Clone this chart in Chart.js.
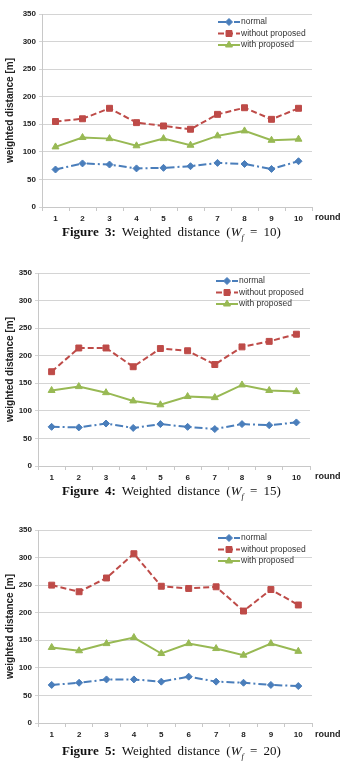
<!DOCTYPE html>
<html>
<head>
<meta charset="utf-8">
<script src="https://cdn.jsdelivr.net/npm/chart.js@4"></script>
<style>
  body { margin: 0; background: #fff; }
  #page { position: relative; width: 343px; height: 776px; overflow: hidden; }
  .box { position: absolute; left: 0; width: 343px; height: 226px; }
  .cap { position: absolute; left: 0; width: 343px; text-align: center; font: 13px 'Liberation Serif', serif; color: #111; word-spacing: 3px; }
  .cap sub { font-size: 8px; }
  .round { position: absolute; left: 315px; font: bold 9px 'Liberation Sans', sans-serif; color: #222; }
</style>
</head>
<body>
<div id="page">
  <div class="box" style="top:0px"><canvas id="c1"></canvas></div>
  <div class="round" style="top:212px">round</div>
  <div class="cap" style="top:224px"><b>Figure 3:</b> Weighted distance (<i>W<sub>f</sub></i> = 10)</div>

  <div class="box" style="top:259px"><canvas id="c2"></canvas></div>
  <div class="round" style="top:471px">round</div>
  <div class="cap" style="top:483px"><b>Figure 4:</b> Weighted distance (<i>W<sub>f</sub></i> = 15)</div>

  <div class="box" style="top:516px"><canvas id="c3"></canvas></div>
  <div class="round" style="top:729px">round</div>
  <div class="cap" style="top:743px"><b>Figure 5:</b> Weighted distance (<i>W<sub>f</sub></i> = 20)</div>
</div>
<script>
const rounds = ['1', '2', '3', '4', '5', '6', '7', '8', '9', '10'];
const seriesNames = ['normal', 'without proposed', 'with proposed'];

// Figure 3 (Wf = 10)
const normalW10 = [68, 79, 77, 70, 71, 74, 80, 78, 69, 83];
const withoutW10 = [155, 160, 179, 153, 147, 141, 168, 180, 159, 179];
const withW10 = [109, 126, 124, 111, 124, 112, 129, 138, 121, 123];

// Figure 4 (Wf = 15)
const normalW15 = [71, 70, 77, 69, 76, 71, 67, 76, 74, 79];
const withoutW15 = [171, 214, 214, 180, 213, 209, 184, 216, 226, 239];
const withW15 = [137, 144, 133, 118, 111, 126, 124, 147, 137, 135];

// Figure 5 (Wf = 20)
const normalW20 = [69, 73, 79, 79, 75, 84, 75, 73, 69, 67];
const withoutW20 = [250, 238, 263, 307, 248, 244, 247, 203, 242, 214];
const withW20 = [137, 131, 144, 155, 126, 144, 135, 123, 144, 130];

const blue = '#4a7ebb', red = '#be4b48', green = '#98b954';
const axisGray = '#c8c8c8';
const tickFont = { family: 'Liberation Sans', size: 8, weight: 'bold' };

// legend drawn inside the plot, top right, like the Excel original
const insideLegend = {
    id: 'insideLegend',
    afterDraw(chart) {
        const ctx = chart.ctx, a = chart.chartArea;
        const x0 = a.right - 94;
        ctx.save();
        chart.data.datasets.forEach((ds, i) => {
            const y = a.top + 8 + i * 11.5;
            ctx.strokeStyle = ds.borderColor;
            ctx.lineWidth = 2;
            ctx.setLineDash(ds.borderDash || []);
            ctx.beginPath();
            ctx.moveTo(x0, y);
            ctx.lineTo(x0 + 22, y);
            ctx.stroke();
            ctx.setLineDash([]);
            ctx.fillStyle = ds.pointBackgroundColor;
            ctx.strokeStyle = ds.borderColor;
            ctx.lineWidth = 1;
            Chart.helpers.drawPoint(ctx, { pointStyle: ds.pointStyle, radius: ds.pointRadius, rotation: 0, borderWidth: 1 }, x0 + 11, y);
            ctx.fillStyle = '#333';
            ctx.font = "8.5px 'Liberation Sans'";
            ctx.textBaseline = 'middle';
            ctx.fillText(ds.label, x0 + 23, y);
        });
        ctx.restore();
    }
};

function makeChart(id, normal, without, withP, left, right) {
    const ctx = document.getElementById(id).getContext('2d');
    return new Chart(ctx, {
        type: 'line',
        data: {
            labels: rounds,
            datasets: [
                { label: seriesNames[0], data: normal, borderColor: blue, pointBackgroundColor: blue,
                  borderDash: [8, 3, 2, 3], pointStyle: 'rectRot', pointRadius: 3.5 },
                { label: seriesNames[1], data: without, borderColor: red, pointBackgroundColor: red,
                  borderDash: [6, 3], pointStyle: 'rect', pointRadius: 4.2 },
                { label: seriesNames[2], data: withP, borderColor: green, pointBackgroundColor: green,
                  pointStyle: 'triangle', pointRadius: 4 }
            ]
        },
        options: {
            responsive: true,
            maintainAspectRatio: false,
            animation: false,
            events: [],
            elements: { line: { borderWidth: 2, tension: 0 }, point: { borderWidth: 1 } },
            layout: { padding: { left: 0, right: right, top: 14, bottom: 0 } },
            plugins: { legend: { display: false }, tooltip: { enabled: false } },
            scales: {
                x: {
                    offset: true,
                    grid: { offset: true, drawOnChartArea: false, drawTicks: true, tickLength: 4, color: axisGray },
                    border: { color: axisGray },
                    ticks: { font: tickFont, color: '#222', padding: 3, maxRotation: 0 },
                    afterFit: (s) => { s.height = 19; }
                },
                y: {
                    min: 0, max: 350,
                    ticks: { stepSize: 50, font: tickFont, color: '#222', padding: 3 },
                    grid: { color: '#d4d4d4', tickLength: 3, tickColor: '#d4d4d4' },
                    border: { color: axisGray },
                    title: { display: true, text: 'weighted distance [m]', font: { family: 'Liberation Sans', size: 10, weight: 'bold' }, color: '#222', padding: { top: 4, bottom: 0 } },
                    afterFit: (s) => { s.width = left; }
                }
            }
        },
        plugins: [insideLegend]
    });
}

makeChart('c1', normalW10, withoutW10, withW10, 42, 31);
makeChart('c2', normalW15, withoutW15, withW15, 38, 33);
makeChart('c3', normalW20, withoutW20, withW20, 38, 31);
</script>
</body>
</html>
